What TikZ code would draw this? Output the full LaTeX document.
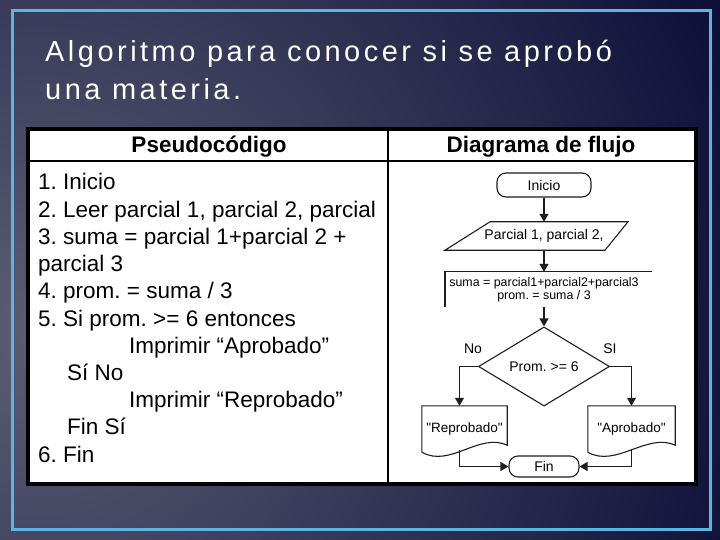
\documentclass[tikz,border=0pt]{standalone}
\usepackage{fontspec}
\setmainfont{Liberation Sans}
\newfontfamily\titlefont[LetterSpace=12]{Liberation Sans}
\usetikzlibrary{shapes.geometric,arrows.meta}
\definecolor{fondo}{RGB}{10,12,54}
\definecolor{brillo}{RGB}{92,93,116}
\definecolor{marco}{RGB}{92,180,224}
\definecolor{trazo}{RGB}{30,30,30}
\frenchspacing

\tikzset{
  linea/.style={draw=trazo, line width=1.1pt},
  flecha/.style={linea, -{Triangle[length=8pt,width=9pt]}},
  terminal/.style={linea, rounded corners=9pt, font=\fontsize{14}{16}\selectfont},
  caja/.style={inner sep=0pt, font=\fontsize{14}{16}\selectfont},
  pseudo/.style={anchor=base west, inner sep=0pt, font=\fontsize{22.5}{27}\selectfont},
  cabecera/.style={anchor=base, inner sep=0pt, font=\fontsize{22.5}{27}\selectfont\bfseries},
  titulo/.style={anchor=base west, inner sep=0pt, text=white, font=\fontsize{29}{34}\titlefont}
}

\newcommand{\documento}[1]{%
  \draw[linea] (#1.south west) -- (#1.north west) -- (#1.north east) -- ([yshift=7pt]#1.south east)
    .. controls +(-28,-13) and +(28,16) .. (#1.south west);}

\begin{document}
\begin{tikzpicture}[x=1pt, y=-1pt]
        \fill[fondo] (0,0) rectangle (720,540);
        \begin{scope}
          \clip (0,0) rectangle (720,540);
          \shade[inner color=brillo, outer color=fondo] (40,330) circle (780pt);
        \end{scope}
        \useasboundingbox (0,0) rectangle (720,540);
        \draw[marco, line width=3pt] (12,11) rectangle (710,529);

        \draw (45,62) node(t1)[titulo]{Algoritmo para conocer si se aprobó};
        \draw (45,100) node(t2)[titulo]{una materia.};

        \fill[white] (28,129) rectangle (696,484);
        \draw[line width=1.8pt] (28,161) -- (696,161);
        \draw[line width=1.8pt] (388,129) -- (388,484);
        \draw[line width=4pt] (28,129) rectangle (696,484);
        \draw (209,153) node(h1)[cabecera]{Pseudocódigo};
        \draw (541,153) node(h2)[cabecera]{Diagrama de flujo};

        \foreach \x/\y/\t [count=\i] in {38/190/{1. Inicio},
            38/217.2/{2. Leer parcial 1, parcial 2, parcial},
            38/244.4/{3. suma = parcial 1+parcial 2 +},
            38/271.6/{parcial 3},
            38/298.8/{4. prom. = suma / 3},
            38/326/{5. Si prom. >= 6 entonces},
            129/353.2/{Imprimir “Aprobado”},
            67/380.4/{Sí  No},
            129/407.6/{Imprimir “Reprobado”},
            67/434.8/{Fin Sí},
            38/462/{6. Fin}}
          \draw (\x,\y) node(p\i)[pseudo]{\t};

        \draw (544,185) node(inicio)[terminal, minimum width=94pt, minimum height=24pt]{Inicio};
        \draw (544,236) node(datos)[caja, minimum height=28pt]{Parcial 1, parcial 2,};
        \draw[linea] ([xshift=-54pt]datos.north) -- ([xshift=84pt]datos.north)
          -- ([xshift=61pt]datos.south) -- ([xshift=-99pt]datos.south) -- cycle;
        \draw (544,289.5) node(proceso)[caja, minimum height=35pt, align=center,
          font=\fontsize{12.4}{13}\selectfont]{suma = parcial1+parcial2+parcial3\\prom. = suma / 3};
        \draw[linea] ([xshift=108pt]proceso.north) -- ([xshift=-99pt]proceso.north)
          -- ([xshift=-99pt]proceso.south);
        \draw (544,366.5) node(decision)[linea, diamond, inner sep=0pt, minimum width=131pt,
          minimum height=63pt, font=\fontsize{14}{16}\selectfont]{Prom. >= 6};
        \draw (473,349) node(no)[caja]{No};
        \draw (610,349) node(si)[caja]{SI};
        \draw (464.5,429) node(reprobado)[caja, minimum width=85pt, minimum height=46pt,
          font=\fontsize{13.5}{15}\selectfont]{\textquotedbl Reprobado\textquotedbl};
        \draw (631.5,429) node(aprobado)[caja, minimum width=87pt, minimum height=46pt,
          font=\fontsize{13.5}{15}\selectfont]{\textquotedbl Aprobado\textquotedbl};
        \documento{reprobado}
        \documento{aprobado}
        \draw (544,466.5) node(fin)[terminal, minimum width=70pt, minimum height=21pt]{Fin};

        \draw[flecha] (inicio) -- (datos);
        \draw[flecha] (datos) -- (proceso);
        \draw[flecha] (proceso) -- (decision);
        \draw[flecha] (decision.west) -| ([xshift=-5pt]reprobado.north);
        \draw[flecha] (decision.east) -| (aprobado.north);
        \draw[flecha] ([xshift=-5pt, yshift=2pt]reprobado.south) |- (fin.west);
        \draw[flecha] ([yshift=3pt]aprobado.south) |- (fin.east);
    \end{tikzpicture}
\end{document}
